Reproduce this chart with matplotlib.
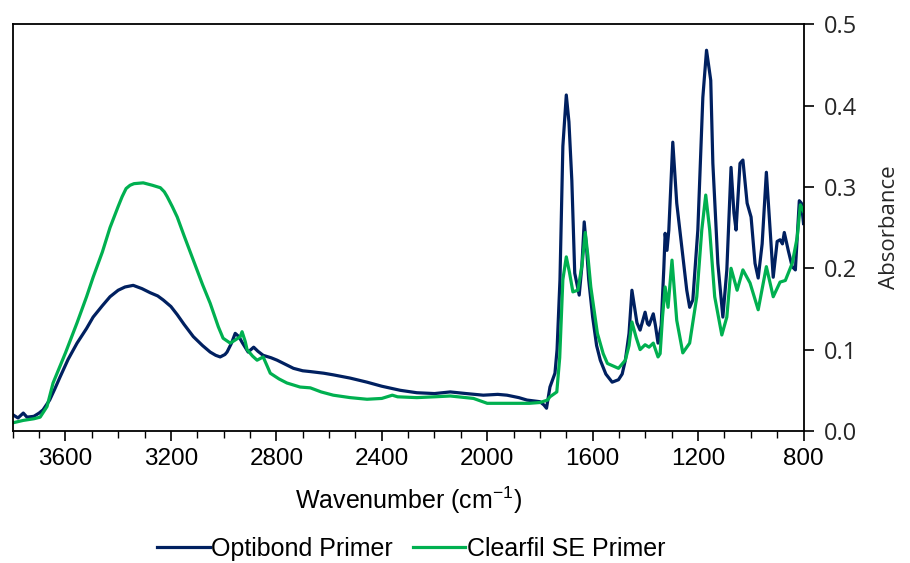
import matplotlib
matplotlib.use("Agg")
import matplotlib.pyplot as plt
from matplotlib.ticker import MultipleLocator, FormatStrFormatter

plt.rcParams["mathtext.fontset"] = "custom"
plt.rcParams["mathtext.rm"] = "Liberation Sans"
plt.rcParams["mathtext.it"] = "Liberation Sans"
plt.rcParams["mathtext.default"] = "regular"

# ---- data ----
opti_wn = [3800, 3780, 3760, 3746, 3720, 3700, 3685, 3660, 3640, 3621, 3590, 3556, 3520, 3495,
           3460, 3431, 3400, 3374, 3343, 3310, 3279, 3250, 3229, 3200, 3176, 3150, 3115, 3080,
           3051, 3030, 3013, 2995, 2987, 2970, 2956, 2942, 2930, 2907, 2886, 2870, 2850, 2820,
           2797, 2760, 2735, 2700, 2671, 2620, 2584, 2520, 2456, 2400, 2330, 2267, 2200, 2140,
           2080, 2015, 1960, 1925, 1880, 1849, 1800, 1785, 1775, 1762, 1743, 1735, 1724, 1713,
           1700, 1690, 1679, 1668, 1651, 1641, 1632, 1622, 1615, 1600, 1585, 1571, 1550, 1526,
           1502, 1488, 1476, 1462, 1451, 1440, 1432, 1420, 1401, 1392, 1386, 1370, 1362, 1352,
           1340, 1330, 1325, 1318, 1311, 1296, 1281, 1262, 1243, 1232, 1220, 1201, 1182, 1168,
           1152, 1144, 1125, 1106, 1091, 1075, 1064, 1056, 1041, 1030, 1014, 999, 984, 972,
           957, 941, 930, 915, 900, 889, 880, 873, 858, 843, 831, 816, 808, 800]
opti_abs = [0.020, 0.016, 0.022, 0.017, 0.018, 0.022, 0.026, 0.038, 0.052, 0.066, 0.088, 0.108,
            0.126, 0.140, 0.154, 0.165, 0.173, 0.177, 0.179, 0.175, 0.170, 0.166, 0.161, 0.153,
            0.143, 0.131, 0.116, 0.105, 0.097, 0.093, 0.091, 0.094, 0.097, 0.108, 0.120, 0.116,
            0.109, 0.097, 0.103, 0.098, 0.093, 0.090, 0.087, 0.081, 0.077, 0.074, 0.073, 0.071,
            0.069, 0.065, 0.060, 0.055, 0.050, 0.047, 0.046, 0.048, 0.046, 0.044, 0.045, 0.044,
            0.041, 0.038, 0.036, 0.032, 0.028, 0.054, 0.071, 0.100, 0.186, 0.350, 0.413, 0.380,
            0.308, 0.194, 0.167, 0.202, 0.257, 0.220, 0.186, 0.140, 0.105, 0.087, 0.070, 0.060,
            0.063, 0.070, 0.087, 0.120, 0.173, 0.150, 0.133, 0.124, 0.146, 0.132, 0.130, 0.144,
            0.130, 0.108, 0.130, 0.200, 0.243, 0.222, 0.247, 0.355, 0.280, 0.226, 0.173, 0.152,
            0.161, 0.247, 0.410, 0.468, 0.431, 0.329, 0.206, 0.140, 0.198, 0.324, 0.268, 0.247,
            0.329, 0.333, 0.280, 0.263, 0.206, 0.188, 0.230, 0.318, 0.263, 0.189, 0.233, 0.235,
            0.230, 0.244, 0.222, 0.202, 0.198, 0.283, 0.280, 0.255]

clear_wn = [3800, 3760, 3720, 3696, 3670, 3647, 3600, 3556, 3520, 3495, 3460, 3431, 3400, 3385,
            3370, 3355, 3340, 3305, 3270, 3240, 3225, 3214, 3195, 3176, 3150, 3115, 3080, 3051,
            3020, 3002, 2975, 2955, 2937, 2930, 2918, 2911, 2890, 2873, 2850, 2835, 2823, 2790,
            2760, 2710, 2671, 2630, 2584, 2520, 2456, 2400, 2360, 2340, 2267, 2200, 2140, 2052,
            2000, 1940, 1887, 1840, 1800, 1771, 1762, 1736, 1725, 1713, 1700, 1688, 1675, 1656,
            1640, 1628, 1618, 1607, 1582, 1560, 1544, 1502, 1476, 1462, 1451, 1435, 1420, 1401,
            1386, 1370, 1352, 1344, 1335, 1325, 1314, 1299, 1281, 1258, 1232, 1205, 1186, 1171,
            1156, 1137, 1110, 1091, 1075, 1052, 1030, 1003, 972, 941, 915, 889, 869, 843, 824,
            812, 800]
clear_abs = [0.010, 0.013, 0.015, 0.017, 0.030, 0.059, 0.096, 0.133, 0.165, 0.189, 0.220, 0.250,
             0.276, 0.288, 0.298, 0.302, 0.304, 0.305, 0.302, 0.299, 0.294, 0.288, 0.276, 0.263,
             0.240, 0.210, 0.180, 0.157, 0.128, 0.114, 0.108, 0.112, 0.116, 0.122, 0.110, 0.100,
             0.092, 0.087, 0.091, 0.080, 0.071, 0.064, 0.059, 0.054, 0.053, 0.048, 0.044, 0.041,
             0.039, 0.040, 0.044, 0.042, 0.041, 0.042, 0.043, 0.040, 0.034, 0.034, 0.034, 0.034,
             0.035, 0.038, 0.042, 0.048, 0.090, 0.186, 0.214, 0.195, 0.171, 0.173, 0.205, 0.244,
             0.215, 0.177, 0.120, 0.095, 0.083, 0.077, 0.087, 0.105, 0.134, 0.115, 0.100, 0.106,
             0.103, 0.108, 0.091, 0.095, 0.140, 0.177, 0.152, 0.210, 0.136, 0.096, 0.108, 0.165,
             0.247, 0.290, 0.247, 0.165, 0.118, 0.140, 0.200, 0.173, 0.198, 0.182, 0.149, 0.202,
             0.165, 0.183, 0.185, 0.206, 0.238, 0.278, 0.270]

series_names = ["Optibond Primer", "Clearfil SE Primer"]
series_colors = ["#002060", "#00B050"]
x_label = "Wavenumber (cm$^{-1}$)"
y_label = "Absorbance"

fig = plt.figure(figsize=(9.10, 5.63), dpi=100)
ax = fig.add_axes([0.014, 0.2345, 0.869, 0.7225])

ax.plot(opti_wn, opti_abs, color=series_colors[0], lw=2.3, label=series_names[0],
        solid_joinstyle="round")
ax.plot(clear_wn, clear_abs, color=series_colors[1], lw=2.3, label=series_names[1],
        solid_joinstyle="round")

ax.set_xlim(3800, 800)
ax.set_ylim(0, 0.5)

ax.xaxis.set_major_locator(MultipleLocator(400))
ax.xaxis.set_minor_locator(MultipleLocator(100))
ax.yaxis.set_major_locator(MultipleLocator(0.1))
ax.yaxis.set_major_formatter(FormatStrFormatter("%.1f"))

ax.yaxis.tick_right()
ax.yaxis.set_label_position("right")

for s in ax.spines.values():
    s.set_linewidth(1.3)
    s.set_color("black")

ax.tick_params(axis="x", which="major", direction="out", length=7, width=1.2,
               labelsize=17.5, pad=5, top=False)
ax.tick_params(axis="x", which="minor", direction="out", length=5, width=1.0, top=False)
ax.tick_params(axis="y", which="major", direction="out", length=7, width=1.2,
               labelsize=17, pad=8, left=False, right=True)
for lab in ax.get_xticklabels():
    lab.set_fontfamily("Liberation Sans")
for lab in ax.get_yticklabels():
    lab.set_fontfamily("Open Sans")
    lab.set_color("#262626")

ax.set_xlabel(x_label, fontsize=18, family="Liberation Sans", labelpad=11)
ax.set_ylabel(y_label, fontsize=16, family="Open Sans", labelpad=15, color="#262626")

leg = fig.legend(loc="center", bbox_to_anchor=(0.452, 0.025), ncol=2, frameon=False,
                 prop={"family": "Liberation Sans", "size": 18}, handlelength=2.1,
                 handletextpad=0.05, columnspacing=0.8)

fig.savefig("out.png", dpi=100)
